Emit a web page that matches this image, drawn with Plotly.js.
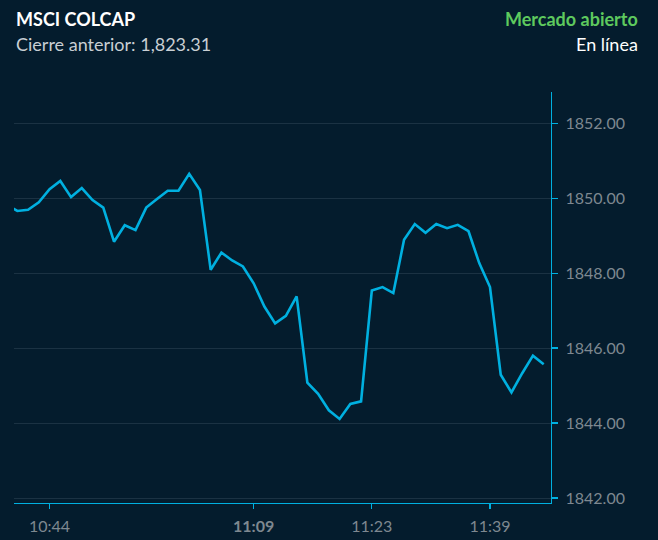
<!DOCTYPE html>
<html>
<head>
<meta charset="utf-8">
<script src="https://cdn.plot.ly/plotly-3.0.1.min.js"></script>
<style>
html,body{margin:0;padding:0;background:#041c2d;}
#chart{width:658px;height:540px;}
</style>
</head>
<body>
<div id="chart"></div>
<script>
// Point sequence (one per sample); first point is partly clipped at the left edge
var pointIndex = [0,1,2,3,4,5,6,7,8,9,10,11,12,13,14,15,16,17,18,19,20,21,22,23,24,25,26,27,28,29,30,31,32,33,34,35,36,37,38,39,40,41,42,43,44,45,46,47,48,49,50];
var values = [
  1849.83, 1849.66, 1849.69, 1849.89, 1850.24, 1850.46, 1850.03, 1850.27, 1849.95, 1849.75,
  1848.84, 1849.28, 1849.15, 1849.75, 1849.98, 1850.20, 1850.20, 1850.65, 1850.22, 1848.09,
  1848.55, 1848.34, 1848.18, 1847.73, 1847.11, 1846.66, 1846.86, 1847.38, 1845.08, 1844.78,
  1844.34, 1844.11, 1844.51, 1844.58, 1847.54, 1847.63, 1847.47, 1848.89, 1849.31, 1849.08,
  1849.31, 1849.20, 1849.29, 1849.12, 1848.27, 1847.63, 1845.29, 1844.82, 1845.33, 1845.80,
  1845.57
];
var xTickIndex = [4, 23, 34, 45];
var xTickLabels = ['10:44', '<b>11:09</b>', '11:23', '11:39'];
var yTickValues = [1842, 1844, 1846, 1848, 1850, 1852];
var titleText = 'MSCI COLCAP';
var subtitleText = 'Cierre anterior: 1,823.31';
var statusText = 'Mercado abierto';
var liveText = 'En línea';

var bg = '#041c2d';
var cyan = '#00b0e0';
var tickGray = '#7e8890';
var FONT = 'Lato, "Noto Sans", sans-serif';

var trace = {
  x: pointIndex,
  y: values,
  type: 'scatter',
  mode: 'lines',
  line: {color: cyan, width: 2.6},
  hoverinfo: 'skip'
};

var layout = {
  width: 658,
  height: 540,
  paper_bgcolor: bg,
  plot_bgcolor: bg,
  showlegend: false,
  margin: {l: 14, r: 107, t: 92, b: 37, pad: 0},
  font: {family: FONT, color: tickGray, size: 16},
  xaxis: {
    type: 'linear',
    range: [0.69, 50.68],
    showgrid: false,
    zeroline: false,
    showline: true,
    linecolor: cyan,
    linewidth: 1.3,
    ticks: 'outside',
    ticklen: 5,
    tickwidth: 1.3,
    tickcolor: cyan,
    tickmode: 'array',
    tickvals: xTickIndex,
    ticktext: xTickLabels,
    tickfont: {family: FONT, size: 16, color: tickGray},
    ticklabelstandoff: 3,
    fixedrange: true
  },
  yaxis: {
    side: 'right',
    range: [1841.867, 1852.835],
    showgrid: true,
    gridcolor: '#1b3243',
    gridwidth: 1,
    zeroline: false,
    showline: true,
    linecolor: cyan,
    linewidth: 1.3,
    ticks: 'outside',
    ticklen: 6,
    tickwidth: 1.3,
    tickcolor: cyan,
    tickmode: 'array',
    tickvals: yTickValues,
    tickformat: '.2f',
    tickfont: {family: FONT, size: 16, color: tickGray},
    ticklabelstandoff: 4,
    fixedrange: true
  },
  annotations: [
    {text: '<b>' + titleText + '</b>', xref: 'paper', yref: 'paper', x: 0, y: 1.1775,
     xanchor: 'left', yanchor: 'middle', showarrow: false,
     font: {family: FONT, size: 18, color: '#ffffff'}},
    {text: subtitleText, xref: 'paper', yref: 'paper', x: 0, y: 1.117,
     xanchor: 'left', yanchor: 'middle', showarrow: false,
     font: {family: FONT, size: 18, color: '#c9cfd4'}},
    {text: '<b>' + statusText + '</b>', xref: 'paper', yref: 'paper', x: 1.1664, y: 1.1775,
     xanchor: 'right', yanchor: 'middle', showarrow: false,
     font: {family: FONT, size: 18, color: '#5ec95e'}},
    {text: liveText, xref: 'paper', yref: 'paper', x: 1.1664, y: 1.117,
     xanchor: 'right', yanchor: 'middle', showarrow: false,
     font: {family: FONT, size: 18, color: '#ffffff'}}
  ]
};

Plotly.newPlot('chart', [trace], layout, {displayModeBar: false, staticPlot: true});
</script>
</body>
</html>
